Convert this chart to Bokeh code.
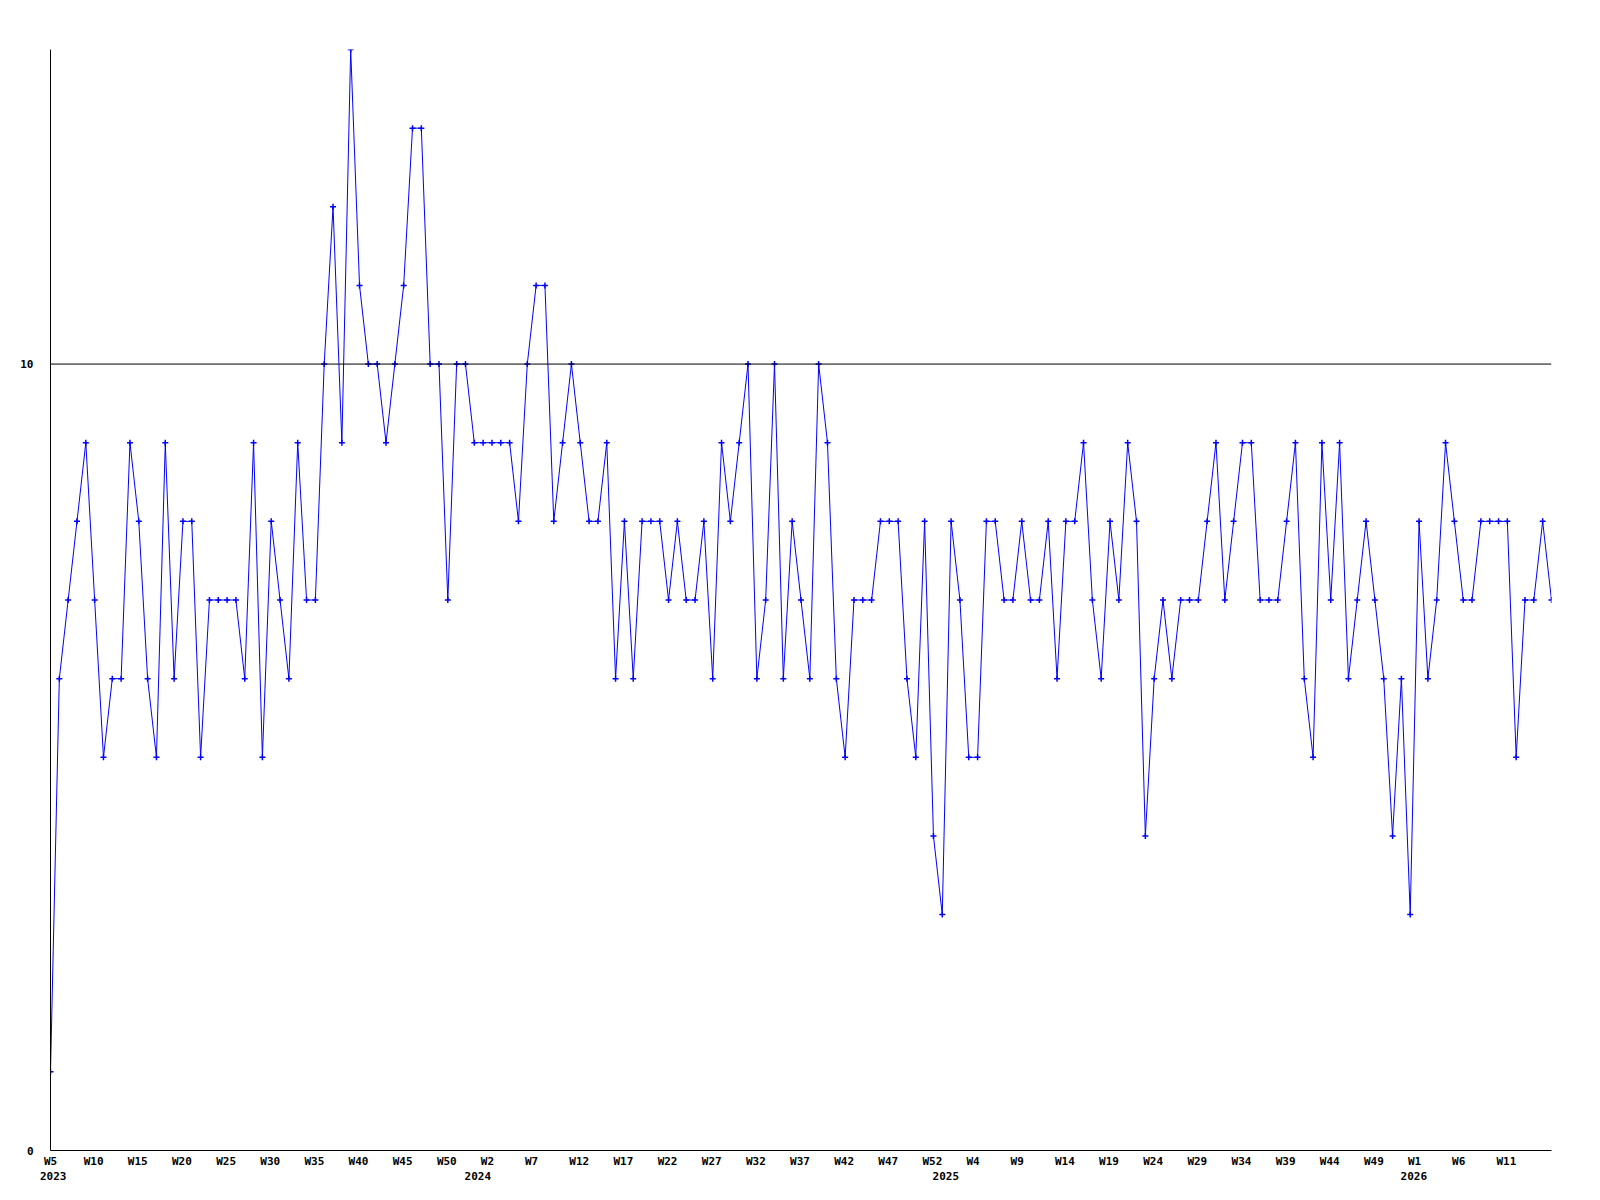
from bokeh.plotting import figure
from bokeh.models import Range1d, FixedTicker, LinearAxis, Span, ColumnDataSource
from bokeh.embed import file_html
from bokeh.resources import INLINE

# weekly values, 2023 W5 .. 2026 W16
values = [
    1, 6, 7, 8, 9, 7, 5, 6, 6, 9, 8, 6, 5, 9, 6, 8, 8, 5, 7, 7, 7, 7, 6, 9, 5, 8, 7, 6, 9, 7,
    7, 10, 12, 9, 14, 11, 10, 10, 9, 10, 11, 13, 13, 10, 10, 7, 10, 10, 9, 9, 9, 9, 9, 8, 10, 11, 11, 8, 9, 10,
    9, 8, 8, 9, 6, 8, 6, 8, 8, 8, 7, 8, 7, 7, 8, 6, 9, 8, 9, 10, 6, 7, 10, 6, 8, 7, 6, 10, 9,
    6, 5, 7, 7, 7, 8, 8, 8, 6, 5, 8, 4, 3, 8, 7, 5, 5, 8, 8, 7, 7, 8, 7, 7, 8, 6, 8, 8, 9, 7,
    6, 8, 7, 9, 8, 4, 6, 7, 6, 7, 7, 7, 8, 9, 7, 8, 9, 9, 7, 7, 7, 8, 9, 6, 5, 9, 7, 9, 6,
    7, 8, 7, 6, 4, 6, 3, 8, 6, 7, 9, 8, 7, 7, 8, 8, 8, 8, 5, 7, 7, 8, 7,
]

# x tick labels, one every 5 weeks
week_labels = [
    "W5", "W10", "W15", "W20", "W25", "W30", "W35", "W40", "W45", "W50",
    "W2", "W7", "W12", "W17", "W22", "W27", "W32", "W37", "W42", "W47", "W52",
    "W4", "W9", "W14", "W19", "W24", "W29", "W34", "W39", "W44", "W49",
    "W1", "W6", "W11",
]
years = ["2023", "2024", "2025", "2026"]
year_first_week_index = [0, 49, 102, 155]
reference_line = 10
y_ticks = [0, 10]

FONT = "DejaVu Sans Mono"
FRAME_W, FRAME_H = 1501, 1101
n = len(values)
x = list(range(n))
px_per_unit = FRAME_W / (n - 1)

src = ColumnDataSource(dict(x=x, y=values))

p = figure(width=1584, height=1184, output_backend="svg", toolbar_location=None,
           x_range=Range1d(0, n - 1), y_range=Range1d(0, 14),
           min_border_left=50, min_border_right=33, min_border_top=49, min_border_bottom=20)
p.frame_width = FRAME_W
p.frame_height = FRAME_H
p.outline_line_color = None
p.xgrid.visible = False
p.ygrid.visible = False
p.background_fill_color = "white"
p.border_fill_color = "white"

p.add_layout(Span(location=reference_line, dimension="width", line_color="black", line_width=1))

p.line("x", "y", source=src, line_color="#0000ff", line_width=1)
p.scatter("x", "y", source=src, marker="cross", size=6, line_color="#0000ff", line_width=1.5)

# y axis
ya = p.yaxis[0]
ya.ticker = FixedTicker(ticks=y_ticks)
ya.major_tick_out = 0
ya.major_tick_in = 0
ya.minor_tick_out = 0
ya.minor_tick_in = 0
ya.axis_line_color = "black"
ya.major_label_standoff = 17
ya.major_label_text_font = FONT
ya.major_label_text_font_style = "bold"
ya.major_label_text_font_size = "11px"
ya.major_label_text_color = "black"

# week axis (labels sit slightly left of the tick in the reference)
tick_pos = []
overrides = {}
for k, lab in enumerate(week_labels):
    idx = k * 5
    pos = max(idx + (3.5 * len(lab) - 11.5) / px_per_unit, 0)
    tick_pos.append(pos)
    overrides[pos] = lab
xa = p.xaxis[0]
xa.ticker = FixedTicker(ticks=tick_pos)
xa.major_label_overrides = overrides
xa.major_tick_out = 0
xa.major_tick_in = 0
xa.minor_tick_out = 0
xa.minor_tick_in = 0
xa.axis_line_color = "black"
xa.major_label_standoff = 4
xa.major_label_text_font = FONT
xa.major_label_text_font_style = "bold"
xa.major_label_text_font_size = "11px"
xa.major_label_text_color = "black"

# year axis
ypos = [max(i - 0.6, 0.3) for i in year_first_week_index]
yov = {pp: yr for pp, yr in zip(ypos, years)}
ax2 = LinearAxis(ticker=FixedTicker(ticks=ypos), major_label_overrides=yov)
ax2.axis_line_color = None
ax2.major_tick_out = 0
ax2.major_tick_in = 0
ax2.minor_tick_out = 0
ax2.minor_tick_in = 0
ax2.major_label_standoff = 1
ax2.major_label_text_font = FONT
ax2.major_label_text_font_style = "bold"
ax2.major_label_text_font_size = "11px"
ax2.major_label_text_color = "black"
p.add_layout(ax2, "below")

open("out.html", "w").write(file_html(p, INLINE))
